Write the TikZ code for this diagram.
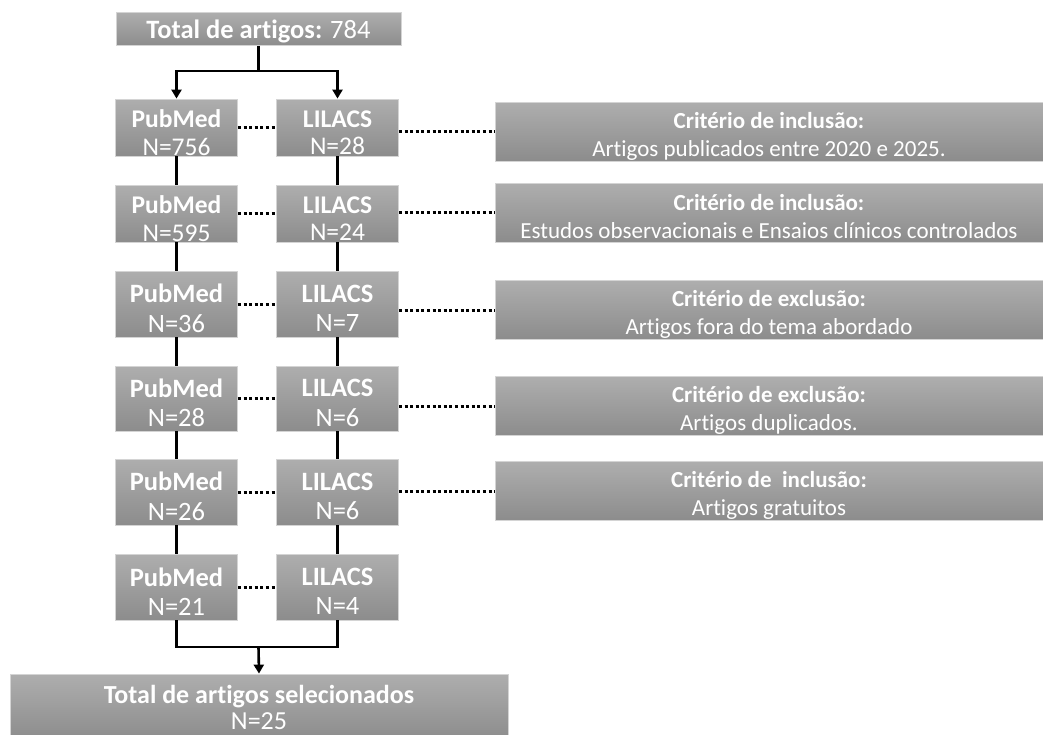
\documentclass[tikz,border=0pt]{standalone}
\usepackage{fontspec}
\setmainfont{Carlito}[Ligatures=NoCommon]
\usetikzlibrary{arrows.meta}
\definecolor{gtop}{HTML}{AEAEAE}
\definecolor{gbot}{HTML}{8C8C8C}
\definecolor{gedge}{HTML}{D4D4D4}
\begin{document}
\begin{tikzpicture}[x=1pt,y=-1pt,
  box/.style={rectangle, top color=gtop, bottom color=gbot, draw=gedge, line width=0.8pt,
    text=white, align=center, inner sep=0pt, font=\fontsize{26.5}{30}\selectfont},
  lbl/.style={text=white, align=center, inner sep=0pt, font=\fontsize{26.5}{29.5}\selectfont, yshift=-4.5pt},
  lblc/.style={text=white, align=center, inner sep=0pt, font=\fontsize{23}{28}\selectfont, yshift=-4.5pt},
  t/.style={label={[lbl]center:{#1}}},
  ts/.style={label={[lbl, font=\fontsize{25.5}{27.5}\selectfont, yshift=-0.5pt]center:{#1}}},
  tc/.style={label={[lblc]center:{#1}}},
  dbbox/.style={box, minimum width=122pt},
  crit/.style={box, minimum width=548pt, minimum height=59pt},
  conn/.style={line width=2.6pt, line join=miter},
  arr/.style={conn, -{Triangle[width=10pt,length=9pt]}},
  dots/.style={line width=3pt, dash pattern=on 3pt off 2.6pt}
]
\useasboundingbox (0,0) rectangle (1043,734);

% top
\node[box, minimum width=285pt, minimum height=33pt, label={[lbl, yshift=2pt]center:{\textbf{Total de artigos:} 784}}] (top) at (258.5,29) {};

% rows
\node[dbbox, minimum height=57pt, ts={\textbf{PubMed}\\N=756}] (P1) at (176.5,127.5) {};
\node[dbbox, minimum height=57pt, ts={\textbf{LILACS}\\N=28}] (L1) at (337.5,127.5) {};
\node[dbbox, minimum height=57pt, ts={\textbf{PubMed}\\N=595}] (P2) at (176.5,213.5) {};
\node[dbbox, minimum height=57pt, ts={\textbf{LILACS}\\N=24}] (L2) at (337.5,213.5) {};
\node[dbbox, minimum height=66pt, t={\textbf{PubMed}\\N=36}] (P3) at (176.5,304) {};
\node[dbbox, minimum height=66pt, t={\textbf{LILACS}\\N=7}] (L3) at (337.5,304) {};
\node[dbbox, minimum height=65pt, t={\textbf{PubMed}\\N=28}] (P4) at (176.5,398.5) {};
\node[dbbox, minimum height=65pt, t={\textbf{LILACS}\\N=6}] (L4) at (337.5,398.5) {};
\node[dbbox, minimum height=66pt, t={\textbf{PubMed}\\N=26}] (P5) at (176.5,492) {};
\node[dbbox, minimum height=66pt, t={\textbf{LILACS}\\N=6}] (L5) at (337.5,492) {};
\node[dbbox, minimum height=66pt, t={\textbf{PubMed}\\N=21}] (P6) at (176.5,587) {};
\node[dbbox, minimum height=66pt, t={\textbf{LILACS}\\N=4}] (L6) at (337.5,587) {};

% criteria
\node[crit, tc={\textbf{Critério de inclusão:}\\Artigos publicados entre 2020 e 2025.}] (C1) at (769,131.5) {};
\node[crit, tc={\textbf{Critério de inclusão:}\\Estudos observacionais e Ensaios clínicos controlados}] (C2) at (769,212.5) {};
\node[crit, tc={\textbf{Critério de exclusão:}\\Artigos fora do tema abordado}] (C3) at (769,310) {};
\node[crit, tc={\textbf{Critério de exclusão:}\\Artigos duplicados.}] (C4) at (769,406) {};
\node[crit, tc={\textbf{Critério de\ \ inclusão:}\\Artigos gratuitos}] (C5) at (769,491) {};

% bottom
\node[box, minimum width=498pt, minimum height=66pt, label={[lbl, font=\fontsize{26}{26}\selectfont, yshift=4pt]center:{\textbf{Total de artigos selecionados}\\N=25}}] (bot) at (259,707) {};

% top split
\coordinate (tsplit) at (258.5,71);
\draw[conn] (top.south) -- (tsplit);
\draw[arr] (tsplit) -| (P1.north);
\draw[arr] (tsplit) -| (L1.north);

% vertical chains
\foreach \a/\b in {1/2,2/3,3/4,4/5,5/6}{
  \draw[conn] (P\a.south) -- (P\b.north);
  \draw[conn] (L\a.south) -- (L\b.north);
}

% dotted between databases
\foreach \i in {1,...,6}{
  \draw[dots] (P\i.east) -- (L\i.west);
}
% dotted to criteria
\foreach \i in {1,...,5}{
  \draw[dots] (C\i.west -| L\i.east) -- (C\i.west);
}

% bottom merge
\coordinate (bs) at (258.5,647);
\draw[conn] (P6.south) |- (bs);
\draw[conn] (L6.south) |- (bs);
\draw[arr] (bs) -- (bot.north);
\end{tikzpicture}
\end{document}
